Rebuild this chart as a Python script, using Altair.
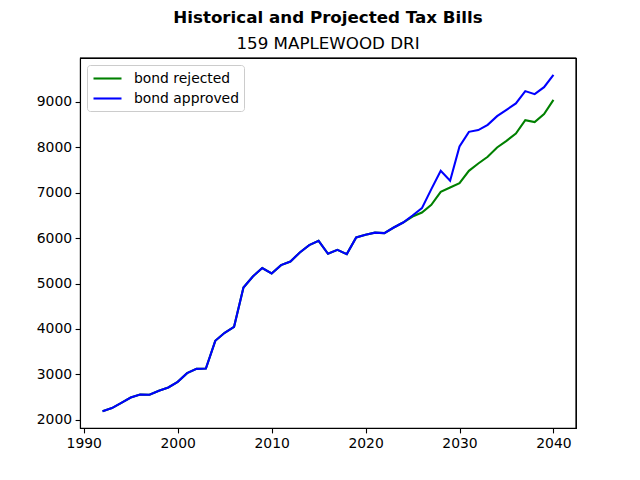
import altair as alt
import pandas as pd

years = list(range(1992, 2041))
approved = [2190, 2258, 2374, 2491, 2557, 2550, 2638, 2711, 2836, 3027,
            3122, 3129, 3739, 3915, 4047, 4912, 5155, 5340, 5222, 5405,
            5485, 5683, 5845, 5940, 5654, 5742, 5647, 6013, 6072, 6120,
            6110, 6233, 6343, 6497, 6660, 7078, 7481, 7261, 8016, 8339,
            8377, 8494, 8685, 8824, 8963, 9235, 9169, 9323, 9594]
rejected = approved[:33] + [6475, 6563, 6733, 7019, 7114, 7210, 7481, 7642,
                            7790, 7995, 8141, 8302, 8597, 8553, 8729, 9044]
series = ["bond rejected", "bond approved"]
colors = ["#008000", "#0000ff"]
x_ticks = [1990, 2000, 2010, 2020, 2030, 2040]
y_ticks = [2000, 3000, 4000, 5000, 6000, 7000, 8000, 9000]

df_rej = pd.DataFrame({"year": years, "value": rejected, "series": series[0]})
df_app = pd.DataFrame({"year": years, "value": approved, "series": series[1]})

ymin, ymax = min(approved), max(approved)
ym = (ymax - ymin) * 0.05
xm = (years[-1] - years[0]) * 0.05
xdom = [years[0] - xm, years[-1] + xm]
ydom = [ymin - ym, ymax + ym]

font = "DejaVu Sans"
xscale = alt.Scale(domain=xdom, nice=False, zero=False)
yscale = alt.Scale(domain=ydom, nice=False, zero=False)
axis_style = dict(title=None, grid=False, tickSize=4.9, labelPadding=3.5, labelFontSize=13.9,
                  labelColor="black", tickColor="black", domainColor="black",
                  tickWidth=1.1, domainWidth=1.1, labelFont=font)


def base(df):
    return alt.Chart(df).mark_line(strokeWidth=2.08).encode(
        x=alt.X("year:Q", scale=xscale, axis=alt.Axis(values=x_ticks, format="d", **axis_style)),
        y=alt.Y("value:Q", scale=yscale, axis=alt.Axis(values=y_ticks, format="d", **axis_style)),
        color=alt.Color("series:N", scale=alt.Scale(domain=series, range=colors),
                        legend=alt.Legend(title=None, orient="top-left", offset=7,
                                          symbolType="M-2,0L2,0", symbolSize=196,
                                          symbolStrokeWidth=2.08, labelFontSize=13.9,
                                          labelFont=font, labelColor="black",
                                          symbolOffset=7, labelOffset=18,
                                          rowPadding=4, padding=5,
                                          fillColor="white", strokeColor="#cccccc",
                                          cornerRadius=3)),
    )


# top and right spines of the axes frame, placed through the scales
top_spine = alt.Chart(pd.DataFrame({"edge": [ydom[1]]})).mark_rule(
    color="black", strokeWidth=1.1).encode(y=alt.Y("edge:Q", scale=yscale))
right_spine = alt.Chart(pd.DataFrame({"edge": [xdom[1]]})).mark_rule(
    color="black", strokeWidth=1.1).encode(x=alt.X("edge:Q", scale=xscale))

chart = alt.layer(base(df_rej), base(df_app), top_spine, right_spine).properties(
    width=496, height=370,
    autosize="none",
    background="white",
    padding={"left": 72, "top": 50, "right": 56, "bottom": 45},
    title=alt.TitleParams(text="Historical and Projected Tax Bills",
                          subtitle="159 MAPLEWOOD DRI",
                          fontSize=16.7, fontWeight="bold", font=font, color="black",
                          subtitleFontSize=16.7, subtitleFont=font, subtitleColor="black",
                          subtitleFontWeight="normal", subtitlePadding=9,
                          anchor="middle", offset=5),
).configure_view(stroke="black", strokeWidth=1.1)

chart.save("out.html", embed_options={"renderer": "svg", "actions": False})
